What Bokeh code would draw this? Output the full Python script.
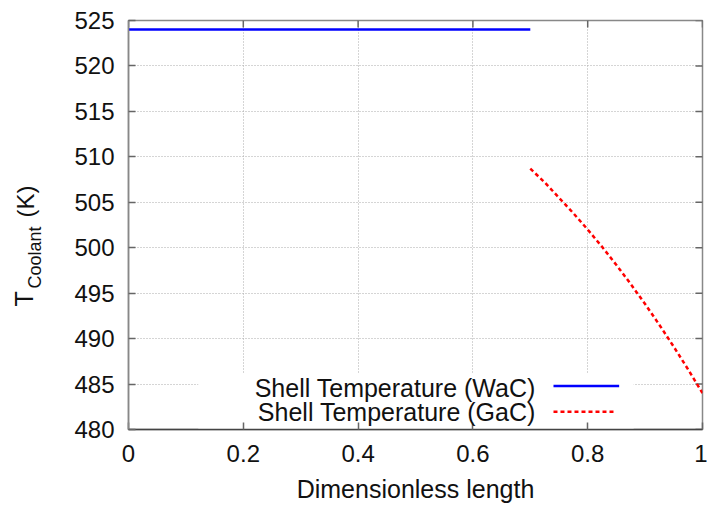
from math import pi
from bokeh.plotting import figure
from bokeh.layouts import row
from bokeh.models import (FixedTicker, Range1d, BoxAnnotation, Label, Arrow)
from bokeh.embed import file_html
from bokeh.resources import INLINE

# ---- data ----
wac_x = [0.0, 0.7]
wac_y = [524.0, 524.0]
gac_x = [0.700, 0.725, 0.750, 0.775, 0.800, 0.825, 0.850, 0.875,
         0.900, 0.925, 0.950, 0.975, 1.000]
gac_y = [508.7, 507.2, 505.5, 503.8, 502.0, 500.1, 498.1, 496.0,
         493.8, 491.5, 489.1, 486.6, 484.0]
x_ticks = [0, 0.2, 0.4, 0.6, 0.8, 1]
x_tick_labels = ["0", "0.2", "0.4", "0.6", "0.8", "1"]
y_ticks = [480, 485, 490, 495, 500, 505, 510, 515, 520, 525]
x_min, x_max = 0, 1
y_min, y_max = 480, 525
legend_labels = ["Shell Temperature (WaC)", "Shell Temperature (GaC)"]
x_label = "Dimensionless length"
y_label_main = "T"
y_label_sub = "Coolant"
y_label_unit = "(K)"

FONT = "Liberation Sans"
BLUE = "#0000ff"
RED = "#ff0000"
FRAME = "#888888"
TICK = "#666666"
TXT = "#111111"
LW = 45  # width of the y-label strip
H = 508

# ---- y-label strip (pixel coordinates, y measured upward) ----
lab = figure(frame_width=LW, frame_height=H, x_range=Range1d(0, LW), y_range=Range1d(0, H),
             output_backend="svg", toolbar_location=None,
             min_border_left=0, min_border_right=0, min_border_top=0, min_border_bottom=0)
lab.title.visible = False
lab.axis.visible = False
lab.grid.visible = False
lab.outline_line_color = None
lab.background_fill_color = "white"
lab.border_fill_color = "white"
YL = [(y_label_main, 23, H - 286, "25px"),
      (y_label_sub, 34.5, H - 268, "18px"),
      (y_label_unit, 25, H - 197, "24px")]
for txt, lx, ly, fs in YL:
    lab.add_layout(Label(x=lx, y=ly, text=txt, angle=pi / 2,
                         text_align="left", text_baseline="alphabetic",
                         text_font=FONT, text_font_size=fs, text_color=TXT))

# ---- main plot ----
p = figure(width=707 - LW, height=H, x_range=Range1d(x_min, x_max),
           y_range=Range1d(y_min, y_max),
           output_backend="svg", toolbar_location=None,
           min_border_left=128 - LW, min_border_right=5, min_border_top=20,
           min_border_bottom=79)
p.background_fill_color = "white"
p.border_fill_color = "white"
p.outline_line_color = FRAME
p.outline_line_width = 1.5

for g in (p.xgrid, p.ygrid):
    g.grid_line_color = "#aaaaaa"
    g.grid_line_dash = "1 2"
    g.grid_line_width = 1
p.xgrid.ticker = FixedTicker(ticks=x_ticks)
p.ygrid.ticker = FixedTicker(ticks=y_ticks)

xa = p.xaxis[0]
ya = p.yaxis[0]
xa.ticker = FixedTicker(ticks=x_ticks)
ya.ticker = FixedTicker(ticks=y_ticks)
xa.major_label_overrides = {t: l for t, l in zip(x_ticks, x_tick_labels)}
for ax in (xa, ya):
    ax.major_tick_in = 7
    ax.major_tick_out = 0
    ax.minor_tick_line_color = None
    ax.major_tick_line_color = TICK
    ax.major_tick_line_width = 1.5
    ax.major_label_text_font = FONT
    ax.major_label_text_font_size = "24px"
    ax.major_label_text_color = TXT
    ax.axis_line_width = 1.5
xa.axis_line_color = "#444444"
ya.axis_line_color = FRAME
xa.major_label_standoff = 15
ya.major_label_standoff = 14
xa.axis_label = x_label
xa.axis_label_text_font = FONT
xa.axis_label_text_font_size = "25px"
xa.axis_label_text_font_style = "normal"
xa.axis_label_text_color = TXT
xa.axis_label_standoff = 10

# mirror ticks on top and right (dash markers centred on the frame, clipped inside)
p.scatter(x=x_ticks, y=[y_max] * len(x_ticks), marker="dash", size=14, angle=pi / 2,
          line_color=TICK, line_width=1.5)
p.scatter(x=[x_max] * len(y_ticks), y=y_ticks, marker="dash", size=14,
          line_color=TICK, line_width=1.5)

# data lines
p.line(wac_x, wac_y, line_color=BLUE, line_width=2.5)
p.line(gac_x, gac_y, line_color=RED, line_width=2.5, line_dash="4 3")

# legend (gnuplot style: right-aligned text, sample to its right)
LEG = dict(box_left=0.1216, box_right=0.880, box_top=486.11,
           text_x=0.7095, text_y=[484.55, 481.90],
           sample_x0=0.7404, sample_x1=[0.8548, 0.849], sample_y=[484.79, 481.96])
box = BoxAnnotation(left=LEG["box_left"], right=LEG["box_right"], top=LEG["box_top"],
                    bottom=y_min, fill_color="white", fill_alpha=1.0,
                    line_color=None, level="underlay")
p.add_layout(box)
styles = [dict(line_color=BLUE, line_width=2.5),
          dict(line_color=RED, line_width=2.5, line_dash="4 3")]
for i, txt in enumerate(legend_labels):
    p.add_layout(Label(x=LEG["text_x"], y=LEG["text_y"][i], text=txt,
                       text_align="right", text_baseline="alphabetic",
                       text_font=FONT, text_font_size="25px", text_color=TXT))
    p.add_layout(Arrow(end=None, x_start=LEG["sample_x0"], y_start=LEG["sample_y"][i],
                       x_end=LEG["sample_x1"][i], y_end=LEG["sample_y"][i], **styles[i]))

layout = row(lab, p)
open("out.html", "w").write(file_html(layout, INLINE))
